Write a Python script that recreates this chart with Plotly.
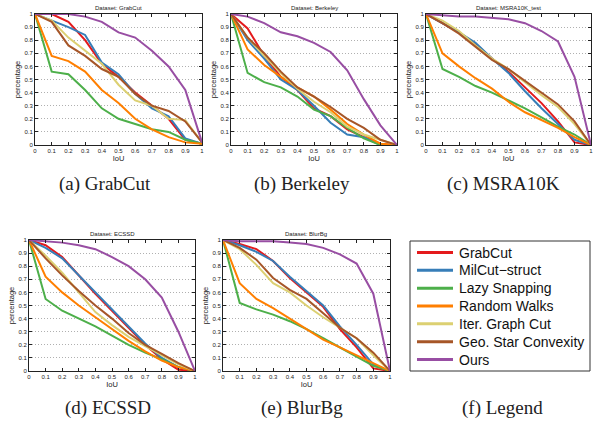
import plotly.graph_objects as go

iou = [0, 0.1, 0.2, 0.3, 0.4, 0.5, 0.6, 0.7, 0.8, 0.9, 1.0]
methods = ["GrabCut", "MilCut\u2212struct", "Lazy Snapping", "Random Walks",
           "Iter. Graph Cut", "Geo. Star Convexity", "Ours"]
colors = ["#e41a1c", "#377eb8", "#4daf4a", "#ff7f00", "#dcd072", "#a65628", "#984ea3"]

datasets = ["GrabCut", "Berkeley", "MSRA10K_test", "ECSSD", "BlurBg"]
captions = ["(a) GrabCut", "(b) Berkeley", "(c) MSRA10K", "(d) ECSSD", "(e) BlurBg", "(f) Legend"]

grabcut = [
    [1, 1.00, 0.94, 0.80, 0.62, 0.52, 0.40, 0.30, 0.20, 0.04, 0.01],
    [1, 0.95, 0.90, 0.84, 0.63, 0.54, 0.39, 0.28, 0.22, 0.05, 0.01],
    [1, 0.56, 0.54, 0.42, 0.28, 0.20, 0.16, 0.12, 0.10, 0.04, 0.01],
    [1, 0.68, 0.64, 0.56, 0.42, 0.32, 0.20, 0.12, 0.06, 0.02, 0.01],
    [1, 0.95, 0.82, 0.72, 0.62, 0.46, 0.34, 0.30, 0.20, 0.19, 0.02],
    [1, 0.94, 0.76, 0.68, 0.58, 0.52, 0.39, 0.30, 0.26, 0.18, 0.02],
    [1, 1.00, 1.00, 0.98, 0.94, 0.86, 0.82, 0.72, 0.60, 0.42, 0.02],
]
berkeley = [
    [1, 0.89, 0.68, 0.52, 0.42, 0.28, 0.22, 0.12, 0.06, 0.01, 0],
    [1, 0.80, 0.66, 0.50, 0.42, 0.30, 0.17, 0.08, 0.06, 0.00, 0],
    [1, 0.55, 0.48, 0.44, 0.37, 0.27, 0.22, 0.13, 0.05, 0.00, 0],
    [1, 0.73, 0.61, 0.52, 0.44, 0.37, 0.27, 0.16, 0.08, 0.01, 0],
    [1, 0.82, 0.68, 0.55, 0.43, 0.33, 0.25, 0.14, 0.08, 0.04, 0],
    [1, 0.82, 0.70, 0.56, 0.44, 0.37, 0.29, 0.20, 0.13, 0.04, 0],
    [1, 0.98, 0.93, 0.86, 0.83, 0.78, 0.71, 0.57, 0.35, 0.15, 0],
]
msra = [
    [1, 0.93, 0.86, 0.77, 0.66, 0.56, 0.44, 0.32, 0.18, 0.02, 0],
    [1, 0.93, 0.86, 0.78, 0.66, 0.55, 0.41, 0.28, 0.16, 0.04, 0],
    [1, 0.58, 0.52, 0.45, 0.40, 0.34, 0.28, 0.21, 0.14, 0.08, 0],
    [1, 0.70, 0.60, 0.51, 0.43, 0.33, 0.25, 0.19, 0.13, 0.06, 0],
    [1, 0.95, 0.87, 0.76, 0.66, 0.58, 0.48, 0.38, 0.29, 0.16, 0],
    [1, 0.93, 0.85, 0.75, 0.65, 0.58, 0.49, 0.40, 0.31, 0.18, 0],
    [1, 0.99, 0.98, 0.98, 0.97, 0.96, 0.93, 0.87, 0.79, 0.52, 0],
]
ecssd = [
    [1, 0.96, 0.87, 0.73, 0.59, 0.46, 0.33, 0.20, 0.09, 0.01, 0],
    [1, 0.94, 0.86, 0.73, 0.60, 0.47, 0.34, 0.21, 0.10, 0.03, 0],
    [1, 0.55, 0.46, 0.40, 0.34, 0.27, 0.20, 0.14, 0.09, 0.03, 0],
    [1, 0.72, 0.60, 0.50, 0.41, 0.32, 0.23, 0.15, 0.08, 0.03, 0],
    [1, 0.88, 0.75, 0.60, 0.45, 0.35, 0.26, 0.19, 0.12, 0.05, 0],
    [1, 0.86, 0.73, 0.61, 0.50, 0.40, 0.29, 0.20, 0.13, 0.06, 0],
    [1, 0.99, 0.98, 0.96, 0.93, 0.87, 0.80, 0.70, 0.56, 0.30, 0],
]
blurbg = [
    [1, 0.97, 0.93, 0.84, 0.71, 0.60, 0.49, 0.32, 0.18, 0.02, 0],
    [1, 0.96, 0.91, 0.84, 0.72, 0.61, 0.50, 0.34, 0.20, 0.05, 0],
    [1, 0.52, 0.47, 0.43, 0.38, 0.32, 0.25, 0.18, 0.11, 0.04, 0],
    [1, 0.67, 0.55, 0.48, 0.40, 0.32, 0.24, 0.18, 0.12, 0.06, 0],
    [1, 0.93, 0.81, 0.67, 0.60, 0.50, 0.41, 0.33, 0.25, 0.12, 0],
    [1, 0.94, 0.85, 0.71, 0.62, 0.55, 0.44, 0.33, 0.25, 0.14, 0],
    [1, 0.99, 0.99, 0.99, 0.98, 0.97, 0.94, 0.89, 0.82, 0.59, 0],
]
all_data = [grabcut, berkeley, msra, ecssd, blurbg]

tick_vals = [0, 0.1, 0.2, 0.3, 0.4, 0.5, 0.6, 0.7, 0.8, 0.9, 1]
tick_text = ["0", "0.1", "0.2", "0.3", "0.4", "0.5", "0.6", "0.7", "0.8", "0.9", "1"]

W, H = 595, 422
# pixel boxes (left, right, top, bottom)
boxes = [(35, 202, 14, 145), (231, 397, 14, 145), (426, 591, 14, 145),
         (29, 195, 240, 371), (223, 390, 240, 371)]
caption_pos = [(105, 184), (302, 184), (503, 184), (108, 408), (302, 408), (502, 408)]
legend_box = (410, 590, 241, 371)

fig = go.Figure()
layout = dict(
    width=W, height=H, margin=dict(l=0, r=0, t=0, b=0, autoexpand=False),
    paper_bgcolor="white", plot_bgcolor="white",
    font=dict(family="Liberation Sans, Arial, sans-serif", color="#222"),
    showlegend=False,
)
annotations = []
shapes = []
for i, (name, data) in enumerate(zip(datasets, all_data)):
    l, r, t, b = boxes[i]
    suffix = "" if i == 0 else str(i + 1)
    for k, m in enumerate(methods):
        fig.add_trace(go.Scatter(
            x=iou, y=data[k], mode="lines", name=m,
            line=dict(color=colors[k], width=2),
            xaxis="x" + suffix, yaxis="y" + suffix,
        ))
    common = dict(range=[0, 1], tickmode="array", tickvals=tick_vals, ticktext=tick_text,
                  ticks="inside", ticklen=3, tickcolor="#222", showline=True,
                  linecolor="#222", linewidth=1, mirror="ticks", zeroline=False,
                  automargin=False, tickfont=dict(size=6, color="#222"))
    layout["xaxis" + suffix] = dict(
        common, domain=[l / W, r / W], anchor="y" + suffix, showgrid=False,
        title=dict(text="IoU", font=dict(size=7.5), standoff=1))
    layout["yaxis" + suffix] = dict(
        common, domain=[1 - b / H, 1 - t / H], anchor="x" + suffix, showgrid=True,
        gridcolor="#b0b0b0", griddash="1px,2px", gridwidth=1,
        title=dict(text="percentage", font=dict(size=7.5), standoff=2))
    annotations.append(dict(
        text="Dataset: " + name, x=(l + r) / 2 / W, y=1 - (t - 1) / H,
        xref="paper", yref="paper", xanchor="center", yanchor="bottom",
        showarrow=False, font=dict(size=6, color="#222")))

# legend panel
lx0, lx1, ly0, ly1 = legend_box
shapes.append(dict(type="rect", xref="paper", yref="paper",
                   x0=lx0 / W, x1=lx1 / W, y0=1 - ly1 / H, y1=1 - ly0 / H,
                   line=dict(color="#333", width=1), fillcolor="white", layer="below"))
n = len(methods)
first_y, step = ly0 + 11.5, (ly1 - ly0 - 23) / (n - 1)
for k, m in enumerate(methods):
    yy = 1 - (first_y + k * step) / H
    shapes.append(dict(type="line", xref="paper", yref="paper",
                       x0=(lx0 + 7) / W, x1=(lx0 + 43) / W, y0=yy, y1=yy,
                       line=dict(color=colors[k], width=3)))
    annotations.append(dict(
        text=m, x=(lx0 + 47) / W, y=yy, xref="paper", yref="paper",
        xanchor="left", yanchor="middle", showarrow=False,
        font=dict(size=14, family="Liberation Sans, Arial, sans-serif", color="#111")))

for cap, (cx, cy) in zip(captions, caption_pos):
    annotations.append(dict(
        text=cap, x=cx / W, y=1 - cy / H, xref="paper", yref="paper",
        xanchor="center", yanchor="middle", showarrow=False,
        font=dict(size=19, family="Liberation Serif, Times New Roman, serif", color="#222")))

layout["annotations"] = annotations
layout["shapes"] = shapes
fig.update_layout(**layout)
fig.write_html("out.html", config={"displayModeBar": False},
               post_script="document.body.style.margin='0';document.body.style.overflow='hidden';")
